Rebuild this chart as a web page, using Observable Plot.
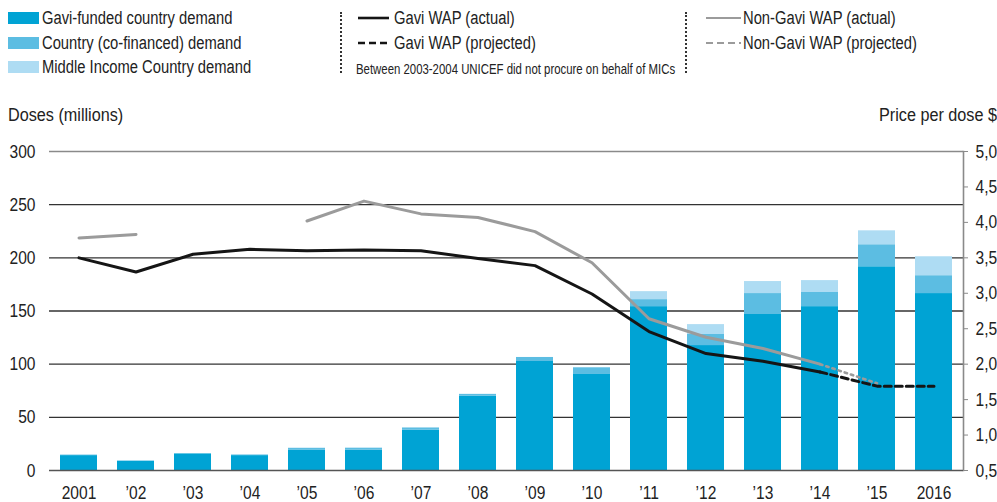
<!DOCTYPE html>
<html>
<head>
<meta charset="utf-8">
<script src="https://cdn.jsdelivr.net/npm/d3@7"></script>
<script src="https://cdn.jsdelivr.net/npm/@observablehq/plot@0.6"></script>
<style>
  body { margin: 0; background: #fff; }
  #wrap { position: relative; width: 997px; height: 502px; overflow: hidden;
          font-family: "Liberation Sans", Arial, sans-serif; color: #222; }
  #head { position: relative; width: 997px; height: 130px; }
  .t { position: absolute; white-space: nowrap; line-height: 1;
       transform-origin: 0 50%; transform: translateY(-50%) scaleX(0.82); }
  .sw { position: absolute; }
  .sep { position: absolute; width: 0; border-left: 2px dotted #333; }
</style>
</head>
<body>
<div id="wrap">
  <div id="head"></div>
  <div id="chart"></div>
</div>
<script>
const years = [2001, 2002, 2003, 2004, 2005, 2006, 2007, 2008, 2009, 2010, 2011, 2012, 2013, 2014, 2015, 2016];
const yearLabels = ["2001", "\u201902", "\u201903", "\u201904", "\u201905", "\u201906", "\u201907", "\u201908", "\u201909", "\u201910", "\u201911", "\u201912", "\u201913", "\u201914", "\u201915", "2016"];

// Doses (millions)
const gaviDemand = [14, 8.5, 15.6, 14, 19.3, 19, 37.8, 70, 102.5, 90.3, 154.1, 117.5, 146.7, 154.1, 191.6, 166.4];
const coFinancedDemand = [0.5, 0.5, 0, 0.6, 1.6, 2, 2.2, 1.6, 3.8, 6.3, 6.6, 10.4, 19.7, 13.3, 20.7, 16.8];
const micDemand = [0, 0, 0, 0, 0, 0, 0, 0, 0, 0, 7.5, 9.3, 11.3, 11.2, 13.1, 17.8];

// Price per dose $
const gaviWapActual = [3.50, 3.30, 3.55, 3.62, 3.60, 3.61, 3.60, 3.49, 3.39, 2.99, 2.46, 2.15, 2.04, 1.89, null, null];
const gaviWapProjected = [null, null, null, null, null, null, null, null, null, null, null, null, null, 1.89, 1.69, 1.69];
const nonGaviWapActual = [3.78, 3.83, null, null, 4.02, 4.30, 4.12, 4.07, 3.87, 3.43, 2.64, 2.38, 2.22, 2.00, null, null];
const nonGaviWapProjected = [null, null, null, null, null, null, null, null, null, null, null, null, null, 2.00, 1.73, null];

const leftTicks = [0, 50, 100, 150, 200, 250, 300];
const priceTicks = [0.5, 1.0, 1.5, 2.0, 2.5, 3.0, 3.5, 4.0, 4.5, 5.0];

const seriesNames = ["Gavi-funded country demand", "Country (co-financed) demand", "Middle Income Country demand"];
const seriesColors = ["#00a3d4", "#5cbde2", "#aedcf3"];

// price axis (0.5..5.0) mapped onto doses axis (0..300)
const toLeft = p => (p == null ? NaN : (p - 0.5) / 0.015);

const bars = [];
years.forEach((yr, i) => {
  bars.push({year: yr, series: seriesNames[0], value: gaviDemand[i]});
  bars.push({year: yr, series: seriesNames[1], value: coFinancedDemand[i]});
  bars.push({year: yr, series: seriesNames[2], value: micDemand[i]});
});
const toLine = arr => years.map((yr, i) => ({year: yr, v: arr[i]}));

const FONT = '"Liberation Sans", Arial, sans-serif';
const SX = 0.82;

const chart = Plot.plot({
  width: 997,
  height: 372,
  marginTop: 21,
  marginBottom: 32,
  marginLeft: 49,
  marginRight: 34,
  style: {fontFamily: FONT, fontSize: "19px", color: "#222", background: "#fff"},
  x: {type: "band", domain: years, paddingInner: 0.35, paddingOuter: 0.19, axis: null},
  y: {domain: [0, 300], axis: null},
  color: {domain: seriesNames, range: seriesColors},
  marks: [
    Plot.ruleY([50, 100, 150, 200, 250], {stroke: "#333", strokeWidth: 1.3}),
    Plot.ruleY([300], {stroke: "#8a8a8a", strokeWidth: 1.6}),
    Plot.frame({anchor: "right", stroke: "#8a8a8a", strokeWidth: 1.6}),
    Plot.barY(bars, {x: "year", y: "value", fill: "series"}),
    Plot.ruleY([0], {stroke: "#555", strokeWidth: 1.6}),
    Plot.line(toLine(nonGaviWapActual), {x: "year", y: d => toLeft(d.v), stroke: "#9b9b9b", strokeWidth: 3}),
    Plot.line(toLine(nonGaviWapProjected), {x: "year", y: d => toLeft(d.v), stroke: "#9b9b9b", strokeWidth: 2.6, strokeDasharray: "2.5,4"}),
    Plot.line(toLine(gaviWapActual), {x: "year", y: d => toLeft(d.v), stroke: "#151515", strokeWidth: 3}),
    Plot.line(toLine(gaviWapProjected), {x: "year", y: d => toLeft(d.v), stroke: "#151515", strokeWidth: 3, strokeDasharray: "7,4"}),
    Plot.axisY(leftTicks, {anchor: "left", tickSize: 0, tickPadding: 14, label: null, fontSize: 19}),
    Plot.axisY(priceTicks.map(toLeft), {anchor: "right", tickSize: 4, tickPadding: 8, stroke: "#8a8a8a", label: null, fontSize: 19,
      tickFormat: d => (d * 0.015 + 0.5).toFixed(1).replace(".", ",")}),
    Plot.axisX(years, {tickSize: 0, tickPadding: 15, label: null, fontSize: 19,
      tickFormat: d => yearLabels[years.indexOf(d)]})
  ]
});
// condense tick label glyphs horizontally (the reference uses a condensed face)
d3.select(chart).selectAll("g[aria-label$='tick label'] text").each(function () {
  const t = this.getAttribute("transform") || "";
  this.setAttribute("transform", t + ` scale(${SX},1)`);
});
document.getElementById("chart").appendChild(chart);

// Legend / header (HTML, above the SVG)
const head = document.getElementById("head");
function txt(s, x, y, size, extra) {
  const e = document.createElement("div");
  e.className = "t";
  e.textContent = s;
  e.style.left = x + "px";
  e.style.top = y + "px";
  e.style.fontSize = size + "px";
  if (extra) Object.assign(e.style, extra);
  head.appendChild(e);
  return e;
}
function rect(x, y, w, h, c) {
  const e = document.createElement("div");
  e.className = "sw";
  Object.assign(e.style, {left: x + "px", top: y + "px", width: w + "px", height: h + "px", background: c});
  head.appendChild(e);
}
function lineSw(x, y, w, color, width, dash) {
  const ns = "http://www.w3.org/2000/svg";
  const s = document.createElementNS(ns, "svg");
  s.setAttribute("width", w); s.setAttribute("height", 8);
  s.style.position = "absolute"; s.style.left = x + "px"; s.style.top = (y - 4) + "px";
  const l = document.createElementNS(ns, "line");
  l.setAttribute("x1", 0); l.setAttribute("x2", w); l.setAttribute("y1", 4); l.setAttribute("y2", 4);
  l.setAttribute("stroke", color); l.setAttribute("stroke-width", width);
  if (dash) l.setAttribute("stroke-dasharray", dash);
  s.appendChild(l);
  head.appendChild(s);
}
function sep(x, y0, y1) {
  const e = document.createElement("div");
  e.className = "sep";
  Object.assign(e.style, {left: x + "px", top: y0 + "px", height: (y1 - y0) + "px"});
  head.appendChild(e);
}

const rows = [18, 43, 67];
seriesNames.forEach((n, i) => {
  rect(8, rows[i] - 6, 31, 12, seriesColors[i]);
  txt(n, 42, rows[i], 18);
});
sep(340, 12, 73);
lineSw(358, rows[0], 31, "#151515", 2.6);
txt("Gavi WAP (actual)", 394, rows[0], 18);
lineSw(358, rows[1], 31, "#151515", 2.6, "7,4");
txt("Gavi WAP (projected)", 394, rows[1], 18);
txt("Between 2003-2004 UNICEF did not procure on behalf of MICs", 356, 70, 13.9);
sep(685, 12, 73);
lineSw(706, rows[0], 35, "#9b9b9b", 2.2);
txt("Non-Gavi WAP (actual)", 743, rows[0], 18);
lineSw(706, rows[1], 35, "#9b9b9b", 2.2, "7,4");
txt("Non-Gavi WAP (projected)", 743, rows[1], 18);
txt("Doses (millions)", 8, 115, 18, {transform: "translateY(-50%) scaleX(0.9)"});
txt("Price per dose $", 997, 115, 18, {transformOrigin: "100% 50%", transform: "translate(-100%,-50%) scaleX(0.9)"});
</script>
</body>
</html>
